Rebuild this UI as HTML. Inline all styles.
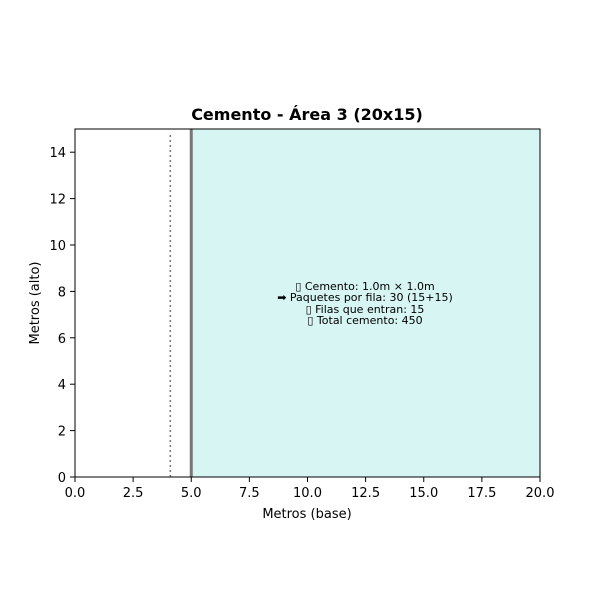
<!DOCTYPE html>
<html><head><meta charset="utf-8"><style>
body{margin:0;background:#fff}
svg text{font-family:"DejaVu Sans","Liberation Sans",sans-serif}
</style></head><body>
<svg id="chart" width="600" height="600" xmlns="http://www.w3.org/2000/svg">
<text x="307" y="120" text-anchor="middle" font-size="16" font-weight="bold">Cemento - Área 3 (20x15)</text>
<g id="plot"></g>
<rect x="75" y="129" width="465" height="348" fill="none" stroke="#000" stroke-width="1"/>
<g id="xt"></g><g id="yt"></g>
<text x="307" y="518" text-anchor="middle" font-size="13">Metros (base)</text>
<text transform="translate(39,303) rotate(-90)" text-anchor="middle" font-size="13">Metros (alto)</text>
<g font-size="11" text-anchor="middle">
<text x="365" y="290">▯ Cemento: 1.0m × 1.0m</text>
<text x="365" y="301">➡ Paquetes por fila: 30 (15+15)</text>
<text x="365" y="313">▯ Filas que entran: 15</text>
<text x="365" y="324">▯ Total cemento: 450</text>
</g>
</svg>
<script>
const xTicks=[0,2.5,5,7.5,10,12.5,15,17.5,20];
const yTicks=[0,2,4,6,8,10,12,14];
const areaX=[5,20];
const areaY=[0,15];
const dottedX=[4.1];
const dottedTop=[14.8];
const sx=v=>75+v*465/20, sy=v=>477-v*348/15;
const NS="http://www.w3.org/2000/svg";
const mk=(t,a,p)=>{const e=document.createElementNS(NS,t);for(const k in a)e.setAttribute(k,a[k]);p.appendChild(e);return e;};
const plot=document.getElementById('plot');
const r=mk('rect',{x:sx(areaX[0]),y:sy(areaY[1]),width:sx(areaX[1])-sx(areaX[0]),height:sy(areaY[0])-sy(areaY[1]),fill:'#d6f5f3',stroke:'#333','stroke-dasharray':'1,1'},plot);


const g=mk('line',{x1:sx(areaX[0]),x2:sx(areaX[0]),y1:sy(areaY[0]),y2:sy(areaY[1]),stroke:'#777','stroke-width':3},plot);


dottedX.forEach((d,i)=>{const l=mk('line',{x1:sx(d),x2:sx(d),y1:sy(0),y2:sy(dottedTop[i]),stroke:'#777','stroke-width':1.5,'stroke-dasharray':'2,3'},plot);

});
const xt=document.getElementById('xt');
xTicks.forEach(v=>{mk('line',{x1:sx(v),x2:sx(v),y1:477,y2:482,stroke:'#000'},xt);
const t=mk('text',{x:sx(v),y:497,'text-anchor':'middle','font-size':13},xt);t.textContent=v.toFixed(1);

});
const yt=document.getElementById('yt');
yTicks.forEach(v=>{mk('line',{x1:70,x2:75,y1:sy(v),y2:sy(v),stroke:'#000'},yt);
const t=mk('text',{x:66,y:sy(v)+5,'text-anchor':'end','font-size':13},yt);t.textContent=v;

});
</script>
</body></html>
